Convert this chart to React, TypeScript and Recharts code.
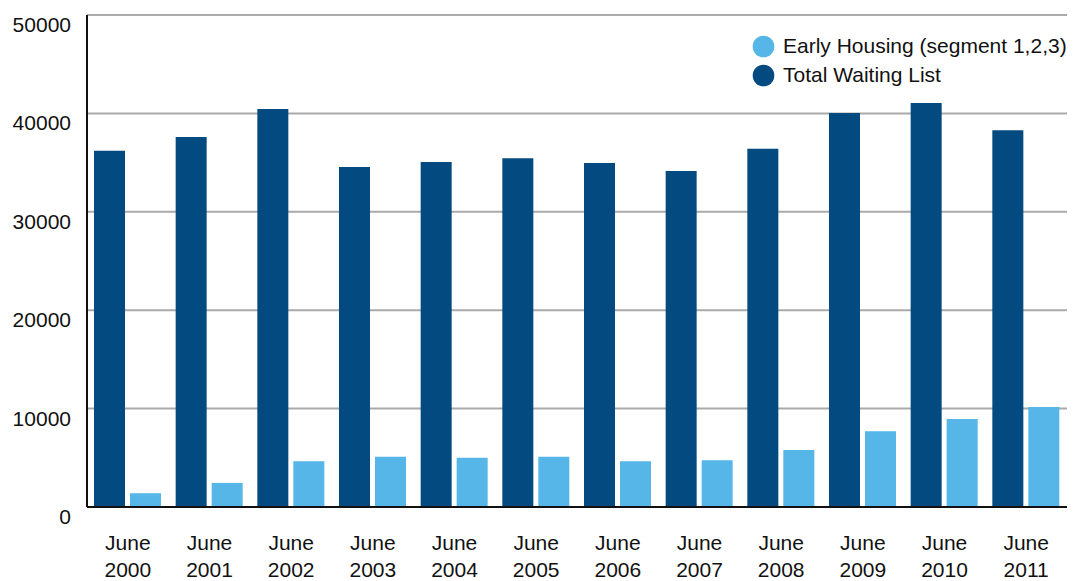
import React from 'react';
import { BarChart, Bar, XAxis, YAxis, CartesianGrid, Legend } from 'recharts';

// Waiting list counts taken each June
const years = ['2000', '2001', '2002', '2003', '2004', '2005', '2006', '2007', '2008', '2009', '2010', '2011'];
const totalWaitingList = [36200, 37600, 40450, 34550, 35050, 35450, 34950, 34150, 36400, 40050, 41050, 38300];
const earlyHousing = [1400, 2450, 4650, 5100, 5000, 5100, 4650, 4750, 5800, 7700, 8950, 10150];
const yTicks = [0, 10000, 20000, 30000, 40000, 50000];
const legendOrder = ['early', 'total'];

const DARK = '#034a80';
const LIGHT = '#55b6e7';
const FONT = '"Liberation Sans", Arial, Helvetica, sans-serif';

const data = years.map((year, i) => ({
  label: `June ${year}`,
  total: totalWaitingList[i],
  early: earlyHousing[i],
}));

const YTick = (props: any) => {
  const { x, y, payload } = props;
  return (
    <text x={x} y={y + 17} textAnchor="end" fontSize={21} fontFamily={FONT} fill="#111">
      {payload.value}
    </text>
  );
};

const XTick = (props: any) => {
  const { x, y, payload } = props;
  const [month, year] = String(payload.value).split(' ');
  return (
    <text textAnchor="middle" fontSize={21} fontFamily={FONT} fill="#111">
      <tspan x={x} y={y + 42.5}>{month}</tspan>
      <tspan x={x} y={y + 70}>{year}</tspan>
    </text>
  );
};

const LegendContent = (props: any) => {
  const items = [...(props.payload || [])].sort(
    (a: any, b: any) => legendOrder.indexOf(a.dataKey) - legendOrder.indexOf(b.dataKey)
  );
  return (
    <svg width={330} height={64} style={{ display: 'block', overflow: 'visible' }}>
      {items.map((item: any, i: number) => (
        <g key={item.value}>
          <circle cx={13.5} cy={16.5 + i * 29} r={10.8} fill={item.color} />
          <text x={33} y={23.3 + i * 29} fontSize={21} fontFamily={FONT} fill="#111">
            {item.value}
          </text>
        </g>
      ))}
    </svg>
  );
};

export default function App() {
  return (
    <div style={{ position: 'absolute', left: 0, top: 0, background: '#fff' }}>
      <BarChart
        width={1079}
        height={581}
        data={data}
        margin={{ top: 15, right: 12, bottom: 0, left: 0 }}
        barCategoryGap={7}
        barGap={5}
      >
        <CartesianGrid vertical={false} stroke="#aaaaaa" strokeWidth={2} />
        <XAxis
          dataKey="label"
          height={74}
          interval={0}
          tickSize={0}
          tickMargin={0}
          tickLine={false}
          axisLine={{ stroke: '#111', strokeWidth: 2 }}
          tick={<XTick />}
        />
        <YAxis
          width={87}
          domain={[0, 50000]}
          ticks={yTicks}
          interval={0}
          tickSize={0}
          tickMargin={16}
          tickLine={false}
          axisLine={{ stroke: '#111', strokeWidth: 2 }}
          tick={<YTick />}
        />
        <Legend
          content={<LegendContent />}
          wrapperStyle={{ position: 'absolute', left: 750, top: 30, width: 330, height: 0, overflow: 'visible' }}
        />
        <Bar dataKey="total" name="Total Waiting List" fill={DARK} isAnimationActive={false} />
        <Bar dataKey="early" name="Early Housing (segment 1,2,3)" fill={LIGHT} isAnimationActive={false} />
      </BarChart>
    </div>
  );
}
